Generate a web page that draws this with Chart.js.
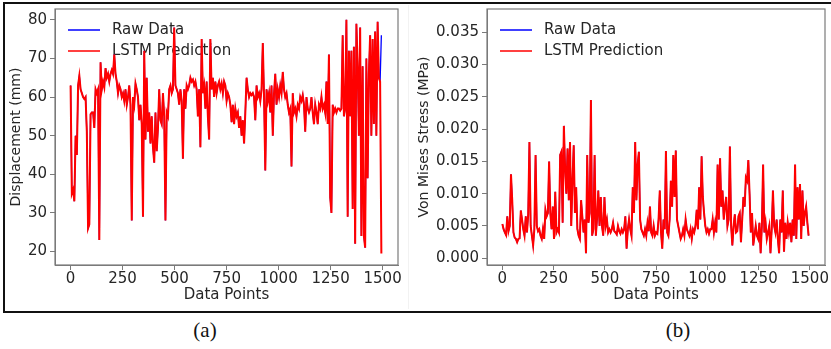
<!DOCTYPE html>
<html lang="en">
<head>
  <meta charset="UTF-8" />
  <title>Raw Data vs LSTM Prediction</title>
  <script src="https://cdn.jsdelivr.net/npm/chart.js"></script>
  <style>
    body {
      margin: 0;
      width: 831px;
      height: 349px;
      background: #fff;
      position: relative;
      overflow: hidden;
      font-family: "DejaVu Sans", sans-serif;
    }
    .frame {
      position: absolute;
      left: 3px;
      top: 2px;
      width: 840px;
      height: 307px;
      border: 2px solid #111;
      border-right: none;
    }
    .divider {
      position: absolute;
      left: 408px;
      top: 5px;
      width: 1px;
      height: 304px;
      background: #f2f2f2;
    }
    .panel {
      position: absolute;
      top: 4px;
      height: 300px;
    }
    #panelA { left: 4px; width: 400px; }
    #panelB { left: 412px; width: 416px; }
    .caption {
      position: absolute;
      top: 318px;
      font-family: "Liberation Serif", "Times New Roman", serif;
      font-size: 21px;
      color: #111;
      transform: translateX(-50%);
    }
  </style>
</head>
<body>
  <div class="frame"></div>
  <div class="divider"></div>
  <div class="panel" id="panelA"><canvas id="chartA" width="400" height="300"></canvas></div>
  <div class="panel" id="panelB"><canvas id="chartB" width="416" height="300"></canvas></div>
  <div class="caption" style="left:205px">(a)</div>
  <div class="caption" style="left:678px">(b)</div>

<script>
  // one value every 6 data points (0, 6, 12 ... 1494)
  const step = 6;
  const xTicks = [0, 250, 500, 750, 1000, 1250, 1500];
  const dispTicks = [20, 30, 40, 50, 60, 70, 80];
  const stressTicks = [0, 0.005, 0.01, 0.015, 0.02, 0.025, 0.03, 0.035];
  const seriesNames = ['Raw Data', 'LSTM Prediction'];

  const lstmDisp = [
    63, 35, 36, 33, 50, 45, 63, 65.5, 62, 61,
    60, 59.5, 60, 51, 26, 27, 55.5, 56, 56, 52,
    62, 61, 62, 23, 69, 62, 64, 62.5, 67.5, 65,
    66, 64, 66, 67, 66, 71, 66, 64, 61, 63,
    62, 60, 61, 59, 62, 58, 60, 63, 58, 28,
    60, 58, 63.5, 62, 60, 54, 58, 53, 29, 72,
    49, 65, 51, 56, 48, 55, 47, 43, 56, 46,
    52, 62, 54, 53, 61, 55, 28, 56, 55, 62,
    63, 61, 62, 78, 63, 62, 61, 58, 62, 59,
    44, 62, 57, 63, 62, 63, 65, 64, 64.5, 63,
    64, 62, 55, 62, 47, 75, 61, 63, 57, 64,
    55, 49, 75, 62, 65, 60, 64, 61, 63, 64,
    62, 63.5, 61, 64, 63, 59, 61, 60, 58, 53.5,
    58, 53, 57, 55, 56, 52, 55, 50, 54, 48,
    56, 65, 62, 60, 61, 60.5, 61, 60, 54, 63,
    60, 61, 59, 62, 74, 60, 41, 62, 59, 61,
    56, 63, 50, 61, 66, 58, 62, 60, 63, 61,
    66.5, 62, 60, 61, 58, 56, 57, 42, 61, 56,
    57, 55, 58, 57, 60, 59, 60.5, 58, 51, 60,
    57, 56, 57, 60, 56, 53, 58, 56, 53, 58,
    57, 60, 57, 58, 56, 64, 53, 71, 34, 30,
    58, 56, 57, 56, 57, 57, 56.5, 57, 76, 55,
    57, 80, 29, 72, 55, 72, 31, 73, 22, 79,
    68, 50, 78, 24, 68, 24, 21, 70, 39, 66,
    76, 50, 75, 53, 77, 50, 79.5, 65, 64, 19.5
  ];
  // raw displacement equals the prediction except where the blue line shows
  const rawDispDiff = [[226, 31], [249, 76]];

  const lstmStress = [
    0.0053, 0.0045, 0.0040, 0.0036, 0.0065, 0.0042, 0.0050, 0.0130, 0.0090, 0.0040,
    0.0032, 0.0030, 0.0025, 0.0030, 0.0031, 0.0074, 0.0060, 0.0045, 0.0035, 0.0065,
    0.0040, 0.0068, 0.0180, 0.0050, 0.0035, 0.0020, 0.0045, 0.0160, 0.0050, 0.0042,
    0.0045, 0.0035, 0.0030, 0.0045, 0.0030, 0.0075, 0.0065, 0.0070, 0.0150, 0.0070,
    0.0045, 0.0080, 0.0030, 0.0103, 0.0040, 0.0045, 0.0040, 0.0160, 0.0165, 0.0055,
    0.0205, 0.0140, 0.0100, 0.0170, 0.0090, 0.0180, 0.0050, 0.0120, 0.0175, 0.0070,
    0.0110, 0.0045, 0.0035, 0.0030, 0.0090, 0.0065, 0.0040, 0.0060, 0.0008, 0.0160,
    0.0055, 0.0070, 0.0245, 0.0035, 0.0045, 0.0160, 0.0035, 0.0062, 0.0105, 0.0050,
    0.0095, 0.0050, 0.0035, 0.0095, 0.0050, 0.0060, 0.0040, 0.0045, 0.0040, 0.0045,
    0.0055, 0.0042, 0.0040, 0.0037, 0.0050, 0.0042, 0.0038, 0.0045, 0.0040, 0.0045,
    0.0065, 0.0015, 0.0045, 0.0060, 0.0045, 0.0035, 0.0110, 0.0070, 0.0180, 0.0090,
    0.0145, 0.0165, 0.0060, 0.0045, 0.0040, 0.0035, 0.0045, 0.0035, 0.0055, 0.0042,
    0.0080, 0.0040, 0.0035, 0.0050, 0.0035, 0.0040, 0.0038, 0.0060, 0.0105, 0.0040,
    0.0015, 0.0060, 0.0045, 0.0166, 0.0040, 0.0035, 0.0060, 0.0120, 0.0080, 0.0160,
    0.0095, 0.0167, 0.0060, 0.0050, 0.0040, 0.0030, 0.0035, 0.0045, 0.0035, 0.0060,
    0.0045, 0.0040, 0.0035, 0.0045, 0.0030, 0.0045, 0.0040, 0.0050, 0.0075, 0.0045,
    0.0110, 0.0060, 0.0158, 0.0095, 0.0070, 0.0050, 0.0040, 0.0045, 0.0038, 0.0045,
    0.0045, 0.0060, 0.0040, 0.0055, 0.0040, 0.0145, 0.0060, 0.0155, 0.0080, 0.0105,
    0.0060, 0.0080, 0.0095, 0.0050, 0.0060, 0.0173, 0.0050, 0.0020, 0.0050, 0.0068,
    0.0040, 0.0042, 0.0065, 0.0070, 0.0025, 0.0060, 0.0095, 0.0080, 0.0125, 0.0120,
    0.0152, 0.0100, 0.0040, 0.0070, 0.0020, 0.0035, 0.0050, 0.0035, 0.0030, 0.0055,
    0.0008, 0.0050, 0.0145, 0.0040, 0.0055, 0.0030, 0.0040, 0.0050, 0.0008, 0.0045,
    0.0105, 0.0050, 0.0040, 0.0060, 0.0030, 0.0008, 0.0060, 0.0040, 0.0105, 0.0010,
    0.0055, 0.0030, 0.0055, 0.0040, 0.0055, 0.0025, 0.0060, 0.0035, 0.0145, 0.0030,
    0.0110, 0.0060, 0.0115, 0.0030, 0.0105, 0.0050, 0.0070, 0.0080, 0.0055, 0.0035
  ];
  const rawStressDiff = [];

  function withDiff(values, diff) {
    const out = values.slice();
    diff.forEach(([i, v]) => { out[i] = v; });
    return out;
  }
  const rawDisp = withDiff(lstmDisp, rawDispDiff);
  const rawStress = withDiff(lstmStress, rawStressDiff);

  const toPoints = vals => vals.map((v, i) => ({ x: i * step, y: v }));

  const textColor = '#262626';
  const spineColor = '#7a7a7a';
  const font15 = { family: 'DejaVu Sans', size: 15 };
  const font14 = { family: 'DejaVu Sans', size: 14 };

  // matplotlib style: spines all round, legend drawn under the lines
  const mplLook = {
    id: 'mplLook',
    beforeDatasetsDraw(chart) {
      const { ctx, chartArea: a } = chart;
      ctx.save();
      ctx.font = '15px "DejaVu Sans"';
      ctx.textBaseline = 'middle';
      ctx.lineWidth = 1.5;
      [['#0000ff', 21], ['#ff0000', 42]].forEach(([c, dy], k) => {
        ctx.strokeStyle = c;
        ctx.beginPath();
        ctx.moveTo(a.left + 13, a.top + dy);
        ctx.lineTo(a.left + 45, a.top + dy);
        ctx.stroke();
        ctx.fillStyle = textColor;
        ctx.fillText(seriesNames[k], a.left + 57, a.top + dy);
      });
      ctx.restore();
    },
    afterDraw(chart) {
      const { ctx, chartArea: a } = chart;
      ctx.save();
      ctx.strokeStyle = spineColor;
      ctx.lineWidth = 1.2;
      ctx.strokeRect(a.left, a.top, a.right - a.left, a.bottom - a.top);
      ctx.restore();
    }
  };

  function makeChart(id, raw, lstm, opts) {
    return new Chart(document.getElementById(id), {
      type: 'line',
      data: {
        datasets: [
          { label: seriesNames[0], data: toPoints(raw), borderColor: '#0000ff', borderWidth: 1.3, order: 1 },
          { label: seriesNames[1], data: toPoints(lstm), borderColor: '#ff0000', borderWidth: 2, order: 0 }
        ]
      },
      options: {
        responsive: false,
        animation: false,
        events: [],
        elements: { point: { radius: 0 }, line: { tension: 0 } },
        layout: { padding: { top: 5, right: opts.padRight, left: 0, bottom: 0 } },
        plugins: { legend: { display: false }, tooltip: { enabled: false } },
        scales: {
          x: {
            type: 'linear',
            min: -75,
            max: 1574,
            afterBuildTicks: s => { s.ticks = xTicks.map(v => ({ value: v })); },
            afterFit: s => { s.height = 39; s.paddingLeft = 0; s.paddingRight = 0; },
            grid: { drawOnChartArea: false, tickLength: 5, color: spineColor },
            border: { color: spineColor },
            ticks: { color: textColor, font: font15, padding: 0, maxRotation: 0, callback: v => String(v) },
            title: { display: true, text: 'Data Points', color: textColor, font: font15, padding: { top: 0, bottom: 0 } }
          },
          y: {
            min: opts.yMin,
            max: opts.yMax,
            afterBuildTicks: s => { s.ticks = opts.yTicks.map(v => ({ value: v })); },
            afterFit: s => { s.width = opts.yWidth; s.paddingTop = 0; s.paddingBottom = 0; },
            grid: { drawOnChartArea: false, tickLength: 5, color: spineColor },
            border: { color: spineColor },
            ticks: { color: textColor, font: font15, padding: 3, callback: opts.fmt },
            title: { display: true, text: opts.yTitle, color: textColor, font: font14, padding: { top: 4, bottom: 0 } }
          }
        }
      },
      plugins: [mplLook]
    });
  }

  makeChart('chartA', rawDisp, lstmDisp, {
    yMin: 16.5, yMax: 82.8, yTicks: dispTicks, yWidth: 51, padRight: 6,
    yTitle: 'Displacement (mm)', fmt: v => String(v)
  });

  makeChart('chartB', rawStress, lstmStress, {
    yMin: -0.00104, yMax: 0.0386, yTicks: stressTicks, yWidth: 75, padRight: 3,
    yTitle: 'Von Mises Stress (MPa)', fmt: v => v.toFixed(3)
  });
</script>
</body>
</html>
